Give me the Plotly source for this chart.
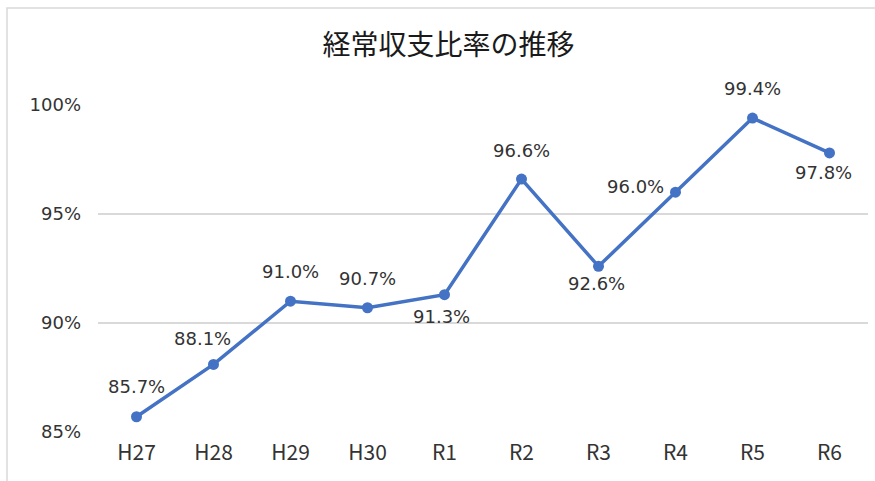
import plotly.graph_objects as go

categories = ["H27", "H28", "H29", "H30", "R1", "R2", "R3", "R4", "R5", "R6"]
values = [85.7, 88.1, 91.0, 90.7, 91.3, 96.6, 92.6, 96.0, 99.4, 97.8]
y_tickvals = [85, 90, 95, 100]
y_ticktext = ["85%", "90%", "95%", "100%"]
title_text = "経常収支比率の推移"

# label offsets in pixels (style only): (xshift, yshift)
label_offsets = [(0, 30), (-11, 26), (0, 30), (0, 29), (-3, -22),
                 (0, 29), (-2, -17), (-40, 6), (0, 30), (-6, -20)]

W, H = 875, 481
L, R, T, B = 98, 7, 105, 49
pw = W - L - R
ph = H - T - B

cjk_font = "Noto Sans CJK JP, Noto Sans, sans-serif"
num_font = "DejaVu Sans, Noto Sans, sans-serif"

fig = go.Figure()
fig.add_trace(go.Scatter(
    x=categories, y=values,
    mode="lines+markers",
    line=dict(color="#4472C4", width=3.5),
    marker=dict(color="#4472C4", size=11),
    cliponaxis=False,
    hoverinfo="skip",
))

annotations = []
for c, v, (dx, dy) in zip(categories, values, label_offsets):
    annotations.append(dict(
        x=c, y=v, xref="x", yref="y", text=f"{v:.1f}%", showarrow=False,
        xshift=dx, yshift=dy, xanchor="center", yanchor="middle",
        font=dict(family=num_font, size=18, color="#333333"),
    ))

fig.update_layout(
    width=W, height=H,
    margin=dict(l=L, r=R, t=T, b=B),
    paper_bgcolor="white",
    plot_bgcolor="white",
    showlegend=False,
    annotations=annotations,
    title=dict(text=title_text, x=448.5 / W, xanchor="center", y=1 - 45 / H, yanchor="middle",
               font=dict(family=cjk_font, size=28, color="#1a1a1a")),
    xaxis=dict(
        type="category",
        range=[-0.5, len(categories) - 0.5],
        showgrid=False, zeroline=False, showline=False, ticks="",
        tickfont=dict(family=cjk_font, size=21, color="#333333"),
        ticklabelstandoff=6,
    ),
    yaxis=dict(
        range=[85, 100],
        tickvals=y_tickvals, ticktext=y_ticktext,
        showgrid=True, gridcolor="#D9D9D9", gridwidth=1.5,
        zeroline=False, showline=False, ticks="",
        tickfont=dict(family=num_font, size=18, color="#333333"),
        ticklabelstandoff=16,
    ),
    shapes=[dict(
        type="rect", xref="paper", yref="paper",
        x0=(7 - L) / pw, x1=(W + 10 - L) / pw,
        y0=-(B + 10) / ph, y1=1 + (T - 8) / ph,
        line=dict(color="#D9D9D9", width=1.5),
        fillcolor="rgba(0,0,0,0)", layer="below",
    )],
)

fig.write_html("out.html", config={"displayModeBar": False},
               post_script="document.body.style.margin='0';document.body.style.overflow='hidden';")
